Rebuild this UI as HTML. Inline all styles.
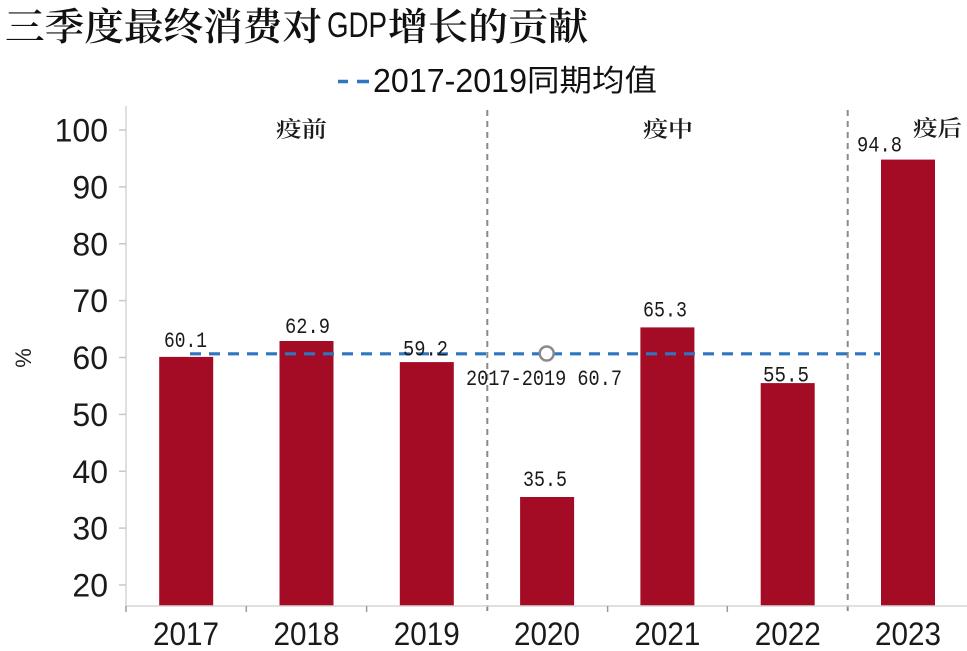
<!DOCTYPE html>
<html>
<head>
<meta charset="utf-8">
<style>
  html, body { margin: 0; padding: 0; background: #ffffff; }
  svg { display: block; }
  .sans { font-family: "Liberation Sans", "Noto Sans CJK SC", sans-serif; }
  .cjk { font-family: "Liberation Sans", "Noto Sans CJK SC", sans-serif; }
  .serif { font-family: "Liberation Serif", "Noto Serif CJK SC", serif; }
  .mono { font-family: "Liberation Mono", "Noto Sans CJK SC", monospace; }
</style>
</head>
<body>
<svg width="967" height="651" viewBox="0 0 967 651" xmlns="http://www.w3.org/2000/svg">
  <rect x="0" y="0" width="967" height="651" fill="#ffffff"/>

  <!-- Title -->
  <text class="serif" x="5" y="40" font-size="38" font-weight="600" fill="#111" textLength="317" lengthAdjust="spacingAndGlyphs">三季度最终消费对</text>
  <text class="sans" x="327" y="37" font-size="35" fill="#111" textLength="60" lengthAdjust="spacingAndGlyphs">GDP</text>
  <text class="serif" x="388" y="40" font-size="38" font-weight="600" fill="#111" textLength="200" lengthAdjust="spacingAndGlyphs">增长的贡献</text>

  <!-- Legend -->
  <line x1="338" y1="81.5" x2="348" y2="81.5" stroke="#2f75c0" stroke-width="3.5"/>
  <line x1="357" y1="81.5" x2="369" y2="81.5" stroke="#2f75c0" stroke-width="3.5"/>
  <text class="sans" x="373" y="92" font-size="33" fill="#111" textLength="154" lengthAdjust="spacingAndGlyphs">2017-2019</text>
  <text class="cjk" x="527" y="91" font-size="30" fill="#111" textLength="130" lengthAdjust="spacingAndGlyphs">同期均值</text>

  <!-- Y axis -->
  <line x1="126" y1="106" x2="126" y2="606" stroke="#d6d6d6" stroke-width="1.5"/>
  <g stroke="#c8c8c8" stroke-width="1.5">
    <line x1="119" y1="130" x2="126" y2="130"/>
    <line x1="119" y1="186.9" x2="126" y2="186.9"/>
    <line x1="119" y1="243.8" x2="126" y2="243.8"/>
    <line x1="119" y1="300.6" x2="126" y2="300.6"/>
    <line x1="119" y1="357.5" x2="126" y2="357.5"/>
    <line x1="119" y1="414.4" x2="126" y2="414.4"/>
    <line x1="119" y1="471.3" x2="126" y2="471.3"/>
    <line x1="119" y1="528.1" x2="126" y2="528.1"/>
    <line x1="119" y1="585" x2="126" y2="585"/>
  </g>
  <g class="sans" font-size="32" fill="#1a1a1a" text-anchor="end">
    <text x="108" y="141.5">100</text>
    <text x="108" y="198.4">90</text>
    <text x="108" y="255.3">80</text>
    <text x="108" y="312.1">70</text>
    <text x="108" y="369">60</text>
    <text x="108" y="425.9">50</text>
    <text x="108" y="482.8">40</text>
    <text x="108" y="539.6">30</text>
    <text x="108" y="596.5">20</text>
  </g>
  <text class="sans" x="0" y="0" font-size="22" fill="#222" text-anchor="middle" transform="translate(31,358) rotate(-90)">%</text>

  <!-- Vertical dashed dividers -->
  <line x1="487.3" y1="110" x2="487.3" y2="612" stroke="#8a8a8a" stroke-width="2" stroke-dasharray="6,5"/>
  <line x1="847.7" y1="110" x2="847.7" y2="612" stroke="#8a8a8a" stroke-width="2" stroke-dasharray="6,5"/>

  <!-- Bars -->
  <g fill="#a40b24">
    <rect x="159.2" y="356.9" width="54" height="249.1"/>
    <rect x="279.5" y="341.0" width="54" height="265"/>
    <rect x="399.8" y="362.1" width="54" height="243.9"/>
    <rect x="520.1" y="497" width="54" height="109"/>
    <rect x="640.4" y="327.4" width="54" height="278.6"/>
    <rect x="760.7" y="383.1" width="54" height="222.9"/>
    <rect x="881.0" y="159.6" width="54" height="446.4"/>
  </g>

  <!-- X axis -->
  <line x1="126" y1="606" x2="967" y2="606" stroke="#d6d6d6" stroke-width="1.5"/>
  <g stroke="#9a9a9a" stroke-width="1.5">
    <line x1="126" y1="606" x2="126" y2="612"/>
    <line x1="246.3" y1="606" x2="246.3" y2="612"/>
    <line x1="366.6" y1="606" x2="366.6" y2="612"/>
    <line x1="607.6" y1="606" x2="607.6" y2="612"/>
    <line x1="727.3" y1="606" x2="727.3" y2="612"/>
  </g>
  <g class="sans" font-size="32" fill="#1a1a1a">
    <text x="153" y="645" textLength="66" lengthAdjust="spacingAndGlyphs">2017</text>
    <text x="273.5" y="645" textLength="66" lengthAdjust="spacingAndGlyphs">2018</text>
    <text x="393.8" y="645" textLength="66" lengthAdjust="spacingAndGlyphs">2019</text>
    <text x="514" y="645" textLength="66" lengthAdjust="spacingAndGlyphs">2020</text>
    <text x="634.4" y="645" textLength="66" lengthAdjust="spacingAndGlyphs">2021</text>
    <text x="754.7" y="645" textLength="66" lengthAdjust="spacingAndGlyphs">2022</text>
    <text x="875" y="645" textLength="66" lengthAdjust="spacingAndGlyphs">2023</text>
  </g>

  <!-- Mean dashed line -->
  <line x1="190" y1="353.8" x2="880" y2="353.8" stroke="#2f75c0" stroke-width="3.2" stroke-dasharray="11,8"/>
  <circle cx="546.7" cy="353.5" r="7" fill="#ffffff" stroke="#8a8a8a" stroke-width="2.5"/>

  <!-- Data labels -->
  <g class="mono" font-size="22" fill="#1a1a1a">
    <text x="164" y="347" textLength="43" lengthAdjust="spacingAndGlyphs">60.1</text>
    <text x="285" y="333" textLength="45" lengthAdjust="spacingAndGlyphs">62.9</text>
    <text x="403" y="355.5" textLength="45" lengthAdjust="spacingAndGlyphs">59.2</text>
    <text x="523" y="486" textLength="44" lengthAdjust="spacingAndGlyphs">35.5</text>
    <text x="643" y="316.5" textLength="44" lengthAdjust="spacingAndGlyphs">65.3</text>
    <text x="763" y="381.5" textLength="46" lengthAdjust="spacingAndGlyphs">55.5</text>
    <text x="857" y="151.5" textLength="45" lengthAdjust="spacingAndGlyphs">94.8</text>
    <text x="466" y="385" textLength="156" lengthAdjust="spacingAndGlyphs">2017-2019 60.7</text>
  </g>

  <!-- Period labels -->
  <g class="serif" font-size="22" font-weight="600" fill="#1a1a1a">
    <text x="276" y="137" textLength="51" lengthAdjust="spacingAndGlyphs">疫前</text>
    <text x="643" y="137" textLength="50" lengthAdjust="spacingAndGlyphs">疫中</text>
    <text x="913" y="136" textLength="49" lengthAdjust="spacingAndGlyphs">疫后</text>
  </g>
</svg>
</body>
</html>
